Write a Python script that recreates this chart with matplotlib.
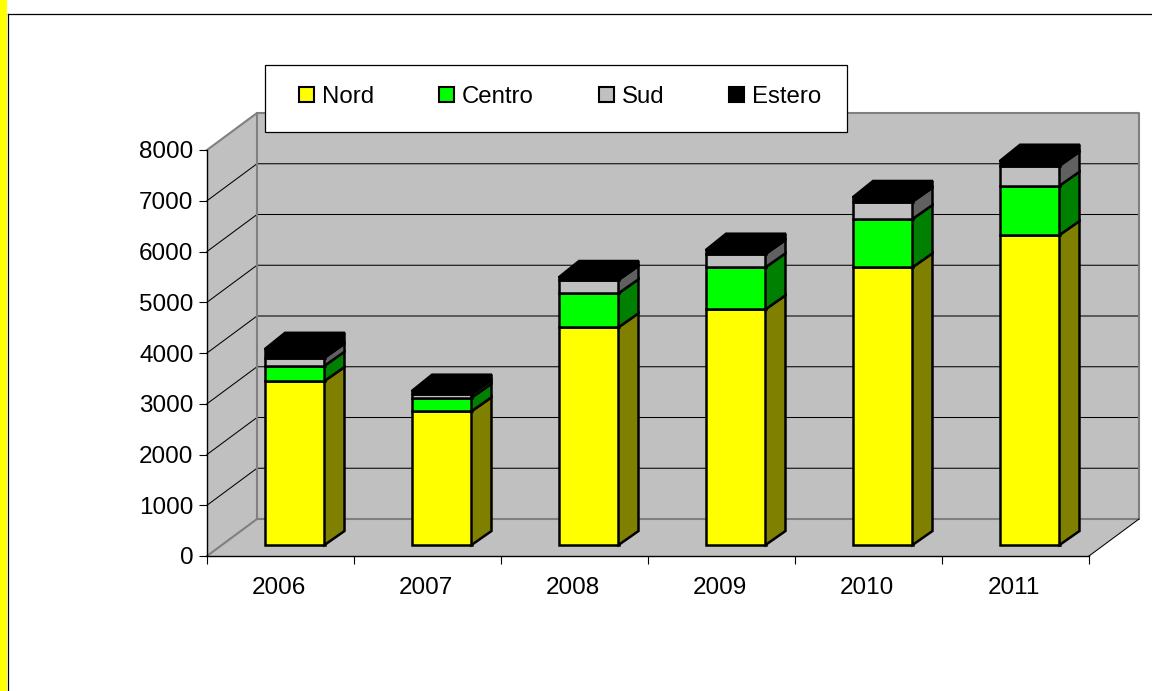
import numpy as np
import matplotlib
matplotlib.use('Agg')
import matplotlib.pyplot as plt
from matplotlib.patches import Polygon, Rectangle
from matplotlib.lines import Line2D

# chart values
years = ['2006', '2007', '2008', '2009', '2010', '2011']
nord = [3232, 2635, 4290, 4644, 5472, 6108]
centro = [300, 268, 670, 828, 952, 971]
sud = [158, 67, 262, 262, 341, 394]
estero = [170, 65, 53, 79, 87, 93]
series = ['Nord', 'Centro', 'Sud', 'Estero']
yticks = [0, 1000, 2000, 3000, 4000, 5000, 6000, 7000, 8000]

front_colors = ['#FFFF00', '#00FF00', '#C0C0C0', '#000000']
side_colors = ['#808000', '#008000', '#606060', '#000000']
GREY = '#808080'
WALL = '#C0C0C0'

plt.rcParams['font.family'] = ['Liberation Sans', 'DejaVu Sans']
W, H = 1152, 691
fig = plt.figure(figsize=(W / 100, H / 100), dpi=100)

# the outer yellow strip and black frame of the slide
fig.add_artist(Rectangle((0, 0), 6.5 / W, 1, transform=fig.transFigure, color='#FFFF00', lw=0))
fig.add_artist(Line2D([7.5 / W, 7.5 / W], [0, 1 - 13.5 / H], transform=fig.transFigure, color='k', lw=0.9))
fig.add_artist(Line2D([7.5 / W, 1], [1 - 13.5 / H, 1 - 13.5 / H], transform=fig.transFigure, color='k', lw=0.9))

# axes is the front plane of the fake 3d box
ax = fig.add_axes([207 / W, (H - 556) / H, 882 / W, 406 / H])
ax.set_xlim(0, 6)
ax.set_ylim(0, 8000)
ax.patch.set_visible(False)
px_x = 6 / 882
px_y = 8000 / 406

# depth of the box and of the bars, in data units
box_x, box_y = 50 * px_x, 37 * px_y
bar_dx, bar_dy = 14 * px_x, 11 * px_y
deep_x, deep_y = 20 * px_x, 14 * px_y
lid_x, lid_y = 20.5 * px_x, 16.5 * px_y
bar_w = 60 * px_x

# walls and floor
ax.add_patch(Polygon([(0, 0), (box_x, box_y), (6 + box_x, box_y), (6, 0)], fc=WALL, ec='none', clip_on=False, zorder=0))
ax.add_patch(Polygon([(0, 0), (box_x, box_y), (box_x, 8000 + box_y), (0, 8000)], fc=WALL, ec='none', clip_on=False, zorder=0))
ax.add_patch(Rectangle((box_x, box_y), 6, 8000, fc=WALL, ec='none', clip_on=False, zorder=0))

for t in yticks[1:-1]:
    ax.plot([0, box_x, 6 + box_x], [t, t + box_y, t + box_y], color='k', lw=0.75, clip_on=False, zorder=1)

# grey frame of the walls
ax.plot([0, box_x, box_x, 0], [0, box_y, 8000 + box_y, 8000], color=GREY, lw=1.5, clip_on=False, zorder=1)
ax.plot([box_x, box_x + 6, box_x + 6, box_x], [box_y, box_y, 8000 + box_y, 8000 + box_y], color=GREY, lw=1.5, clip_on=False, zorder=1)
ax.plot([6, 6 + box_x], [0, box_y], color='k', lw=0.75, clip_on=False, zorder=1)

# stacked bars
x = np.arange(len(years)) + 0.5 + bar_dx
bottom = np.zeros(len(years))
for name, vals, fc, sc in zip(series, [nord, centro, sud, estero], front_colors, side_colors):
    vals = np.array(vals)
    ax.bar(x, vals, bar_w, bottom=bottom + bar_dy, color=fc, edgecolor='k', lw=1.8, label=name, zorder=3, clip_on=False)
    for xi, b, v in zip(x, bottom, vals):
        r = xi + bar_w / 2
        ax.add_patch(Polygon([(r, b + bar_dy), (r + deep_x, b + bar_dy + deep_y),
                              (r + deep_x, b + v + bar_dy + deep_y), (r, b + v + bar_dy)],
                             fc=sc, ec='k', lw=1.8, joinstyle='miter', clip_on=False, zorder=3))
    bottom = bottom + vals

# black lid on top of each bar
for xi, t in zip(x, bottom):
    l, r = xi - bar_w / 2, xi + bar_w / 2
    t = t + bar_dy
    ax.add_patch(Polygon([(l, t), (r, t), (r + lid_x, t + lid_y), (l + lid_x, t + lid_y)],
                         fc='k', ec='k', lw=1.5, clip_on=False, zorder=3))

# axes and ticks
for s in ['top', 'right']:
    ax.spines[s].set_visible(False)
for s in ['left', 'bottom']:
    ax.spines[s].set_color('k')
    ax.spines[s].set_linewidth(1.0)
    ax.spines[s].set_zorder(2)
ax.set_yticks(yticks)
ax.set_xticks(range(7))
ax.set_xticklabels([])
ax.set_xticks(np.arange(len(years)) + 0.5 - 1.5 * px_x, years, minor=True)
ax.tick_params(axis='both', which='major', length=6, width=0.8, color='k', labelsize=17.5, pad=3.7)
ax.tick_params(axis='x', which='minor', length=0, labelsize=17.5, pad=15)

# legend box sits over the top of the wall
fig.add_artist(Rectangle((264.5 / W, 1 - 131.5 / H), 582 / W, 66 / H, transform=fig.transFigure,
                         fc='w', ec='k', lw=0.9, zorder=5))
handles = [Rectangle((0, 0), 1, 1, fc=c, ec='k', lw=1.5) for c in front_colors]
leg = fig.legend(handles, series, ncol=4, loc='center', bbox_to_anchor=(560 / W, 1 - 97 / H),
                 frameon=False, fontsize=17.3, handlelength=0.62, handleheight=0.62,
                 handletextpad=0.33, columnspacing=2.71, borderpad=0, borderaxespad=0)
leg.set_zorder(6)

plt.savefig('out.png', dpi=100)
